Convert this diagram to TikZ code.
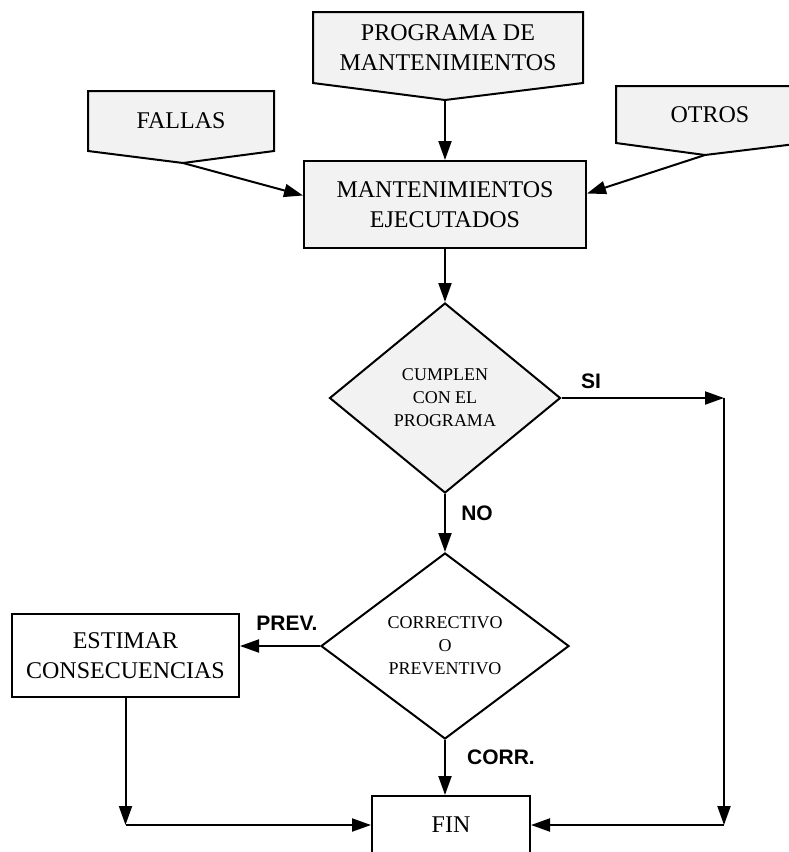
\documentclass[tikz,border=0pt]{standalone}
\usepackage{fontspec}
\setmainfont{Liberation Serif}
\newfontfamily\labelsans{Liberation Sans}
\usetikzlibrary{shapes.geometric,arrows.meta,calc,backgrounds}

\begin{document}
\begin{tikzpicture}[x=1pt,y=-1pt,
  line width=2pt,
  arr/.style={-{Triangle[length=19pt,width=13pt]}},
  boxtext/.style={font=\fontsize{24}{30}\selectfont, align=center},
  docbox/.style={boxtext, rectangle, inner sep=0pt},
  procbox/.style={boxtext, draw, line width=2pt, rectangle, inner sep=0pt},
  decision/.style={draw, line width=2pt, diamond, inner sep=0pt, align=center,
    font=\fontsize{18}{23}\selectfont},
  branch/.style={font=\labelsans\bfseries\fontsize{21}{24}\selectfont, inner sep=0pt},
  shaded/.style={fill=black!5}
]
\useasboundingbox (0,0) rectangle (789,852);

% inputs (document shapes)
\node[docbox, minimum width=268pt, minimum height=69pt] (prog) at (448,47.5) {PROGRAMA DE\\MANTENIMIENTOS};
\coordinate (progtip) at (445,100);
\node[docbox, minimum width=184pt, minimum height=58pt] (fallas) at (181,121) {FALLAS};
\coordinate (fallastip) at (183,163);
\node[docbox, minimum width=186pt, minimum height=55pt] (otros) at (710,114.5) {OTROS};
\coordinate (otrostip) at (705,155);

\begin{scope}[on background layer]
  \foreach \n in {prog,fallas,otros}
    \draw[shaded, line width=2pt] (\n.north west) -- (\n.north east) -- (\n.south east)
      -- (\n tip) -- (\n.south west) -- cycle;
\end{scope}

% process
\node[procbox, shaded, minimum width=282pt, minimum height=87pt] (ejec) at (445,204.5) {MANTENIMIENTOS\\EJECUTADOS};

% decisions
\node[decision, shaded, minimum width=231pt, minimum height=190pt] (cumple) at (445,398) {CUMPLEN\\CON EL\\PROGRAMA};
\node[decision, minimum width=248pt, minimum height=186pt] (tipo) at (445,646) {CORRECTIVO\\O\\PREVENTIVO};

\node[procbox, minimum width=227pt, minimum height=83pt] (estimar) at (125.5,655.5) {ESTIMAR\\CONSECUENCIAS};
\node[procbox, minimum width=158pt, minimum height=58pt] (fin) at (451,825) {FIN};

% routing points
\coordinate (sicorner) at (724,398);
\coordinate (sibottom) at (sicorner |- fin.east);
\coordinate (prevbottom) at (estimar.south |- fin.west);

% connectors
\draw[arr] (progtip) -- (ejec.north -| progtip);
\draw[arr] (fallastip) -- ([yshift=9pt]ejec.west);
\draw[arr] (otrostip) -- ([yshift=11pt]ejec.east);
\draw[arr] (ejec.south) -- (cumple.north);
\draw[arr] (cumple.east) -- (sicorner);
\draw[arr] (sicorner) -- (sibottom);
\draw[arr] (sibottom) -- (fin.east);
\draw[arr] (cumple.south) -- (tipo.north);
\draw[arr] (tipo.west) -- (tipo.west -| estimar.east);
\draw[arr] (tipo.south) -- (tipo.south |- fin.north);
\draw[arr] (estimar.south) -- (prevbottom);
\draw[arr] (prevbottom) -- (fin.west);

% branch labels
\node[branch] (si) at (591,381) {SI};
\node[branch] (no) at (477,513) {NO};
\node[branch] (prev) at (287,623) {PREV.};
\node[branch] (corr) at (501,757) {CORR.};
\end{tikzpicture}
\end{document}
